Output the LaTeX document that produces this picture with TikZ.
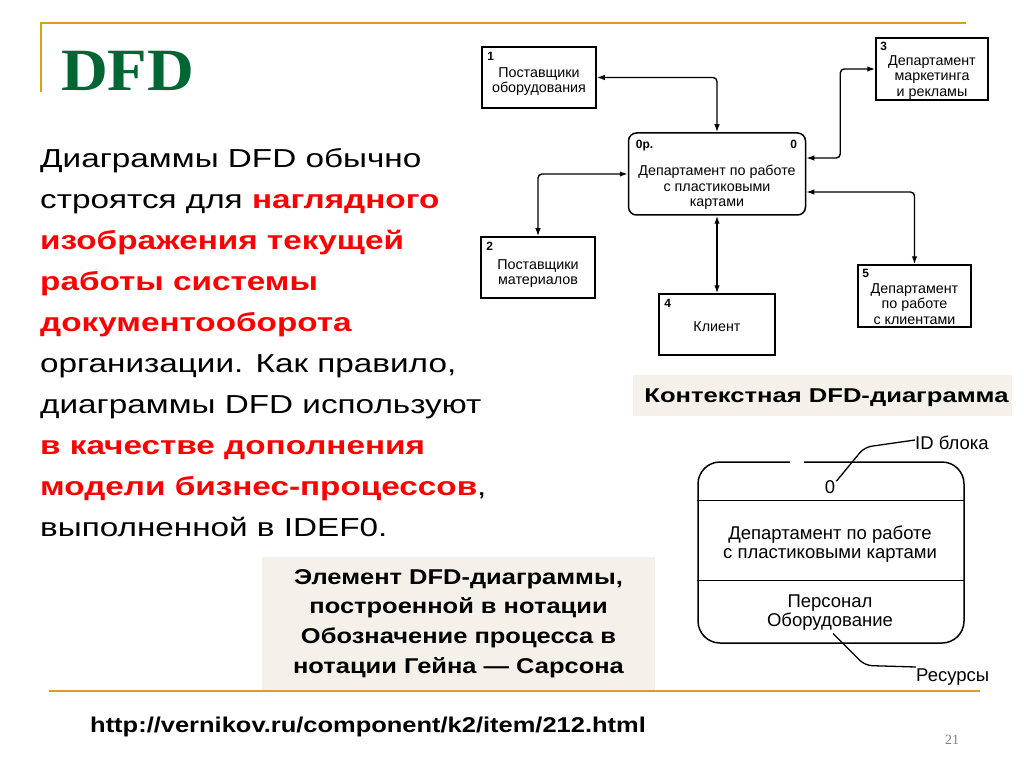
\documentclass[tikz,border=0pt]{standalone}
\usepackage{fontspec}
\setmainfont{Liberation Sans}
\newfontfamily\shir[FakeStretch=1.28]{Liberation Sans}
\newfontfamily\shirb[FakeStretch=1.19]{Liberation Sans}
\newfontfamily\serifdfd[FakeStretch=1.08]{Liberation Serif}
\newfontfamily\serifnum{Liberation Serif}
\usetikzlibrary{arrows.meta}
\definecolor{zoloto}{RGB}{214,162,36}
\definecolor{zelen}{RGB}{0,102,51}
\definecolor{bezh}{RGB}{245,241,234}
\newcommand\krasn[1]{\textbf{\color{red}#1}}
\tikzset{
  ent/.style={draw,line width=1.5,inner sep=0},
  txt/.style={font=\fontsize{14.3}{15.5}\selectfont,align=center,inner sep=0},
  num/.style={font=\fontsize{12}{12}\selectfont\bfseries,anchor=north west,inner sep=0},
  flow/.style={<->,>={Latex[length=8pt,width=5.5pt]},line width=1.4,rounded corners=4},
  etxt/.style={font=\fontsize{18.5}{19}\selectfont,align=center,inner sep=0},
  lead/.style={line width=1.3,rounded corners=7},
  podp/.style={fill=bezh,font=\shir\bfseries\fontsize{20}{20}\selectfont,inner sep=0}
}
\begin{document}
\begin{tikzpicture}[x=1pt,y=-1pt]
  \fill[white] (0,0) rectangle (1024,767);
  \useasboundingbox (0,0) rectangle (1024,767);
  % рамка слайда
  \draw[zoloto,line width=2.5] (40,23) -- (966,23);
  \draw[zoloto,line width=2.5] (41,22) -- (41,92);
  \node[font=\serifdfd\bfseries\fontsize{60}{60}\selectfont,text=zelen,anchor=base west,inner sep=0] (title) at (61,91) {DFD};
  \node[anchor=north west,inner sep=0,align=left,font=\shir\fontsize{26}{41}\selectfont] (para) at (40,148)
    {Диаграммы DFD обычно\\
     строятся для \krasn{наглядного}\\
     \krasn{изображения текущей}\\
     \krasn{работы системы}\\
     \krasn{документооборота}\\
     организации. Как правило,\\
     диаграммы DFD используют\\
     \krasn{в качестве дополнения}\\
     \krasn{модели бизнес-процессов},\\
     выполненной в IDEF0.};
  % контекстная диаграмма
  \node[ent,rounded corners=8,minimum width=177,minimum height=82] (proc) at (717,174) {};
  \node[txt] (proct) at ([yshift=-13.5]proc.center) {Департамент по работе\\с пластиковыми\\картами};
  \node[num] (procn) at ([shift={(8,8)}]proc.north west) {0р.};
  \node[num,anchor=north east] (procm) at ([shift={(-9,8)}]proc.north east) {0};
  \node[ent,minimum width=114,minimum height=61] (b1) at (539,77.5) {};
  \node[txt] (b1t) at ([yshift=-4]b1.center) {Поставщики\\оборудования};
  \node[num] (b1n) at ([shift={(6,6)}]b1.north west) {1};
  \node[ent,minimum width=114,minimum height=61] (b2) at (538,267.5) {};
  \node[txt] (b2t) at ([yshift=-6]b2.center) {Поставщики\\материалов};
  \node[num] (b2n) at ([shift={(6,6)}]b2.north west) {2};
  \node[ent,minimum width=112,minimum height=62] (b3) at (932,69) {};
  \node[txt] (b3t) at ([yshift=-8.5]b3.center) {Департамент\\маркетинга\\и рекламы};
  \node[num] (b3n) at ([shift={(5,5)}]b3.north west) {3};
  \node[ent,minimum width=116,minimum height=61] (b4) at (717,324.5) {};
  \node[txt] (b4t) at ([yshift=-2.5]b4.center) {Клиент};
  \node[num] (b4n) at ([shift={(6,6)}]b4.north west) {4};
  \node[ent,minimum width=113,minimum height=62] (b5) at (914.5,296) {};
  \node[txt] (b5t) at ([yshift=-8]b5.center) {Департамент\\по работе\\с клиентами};
  \node[num] (b5n) at ([shift={(5,5)}]b5.north west) {5};
  \draw[flow] (b1.east) -| (proc.north);
  \draw[flow] (proc.west) -| (b2.north);
  \draw[flow] ([yshift=16]proc.east) -- ++(34,0) |- (b3.west);
  \draw[flow] ([yshift=-18]proc.east) -| (b5.north);
  \draw[flow] (proc.south) -- (b4.north);
  \node[podp,minimum width=379,minimum height=41,text depth=0,align=center] (cap1) at (822.5,395.5) {\hspace*{8pt}Контекстная DFD-диаграмма};
  % элемент в нотации Гейна-Сарсона
  \node[ent,rounded corners=22,minimum width=266,minimum height=181] (elem) at (831,552.5) {};
  \fill[white] (790,458) rectangle (804,466);
  \draw[line width=1.5] ([yshift=-39]elem.north west) -- ([yshift=-39]elem.north east);
  \draw[line width=1.5] ([yshift=-119]elem.north west) -- ([yshift=-119]elem.north east);
  \node[etxt] (e0) at (830,487) {0};
  \node[etxt] (ename) at (830,544) {Департамент по работе\\с пластиковыми картами};
  \node[etxt] (eres) at (830,612.5) {Персонал\\Оборудование};
  \node[etxt,anchor=west] (eid) at (915,443) {ID блока};
  \node[etxt,anchor=west] (eresl) at (916,677) {Ресурсы};
  \draw[lead] ([shift={(1,1)}]e0.north east) -- ++(28,-34) -- ([yshift=3]eid.west);
  \draw[lead] ([shift={(3,3)}]eres.south) -- ++(32,32) -- ([yshift=10]eresl.west);
  \node[podp,align=center,font=\shirb\bfseries\fontsize{21.4}{29.7}\selectfont,minimum width=393,minimum height=133] (cap2) at (458.5,623.5)
    {Элемент DFD-диаграммы,\\построенной в нотации\\Обозначение процесса в\\нотации Гейна — Сарсона};
  \draw[zoloto,line width=2] (49,691) -- (980,691);
  \node[font=\shirb\bfseries\fontsize{21.4}{21}\selectfont,anchor=west,inner sep=0] (url) at (90,727) {http://vernikov.ru/component/k2/item/212.html};
  \node[font=\serifnum\fontsize{14}{14}\selectfont,text=gray] (pg) at (952,740) {21};
\end{tikzpicture}
\end{document}
